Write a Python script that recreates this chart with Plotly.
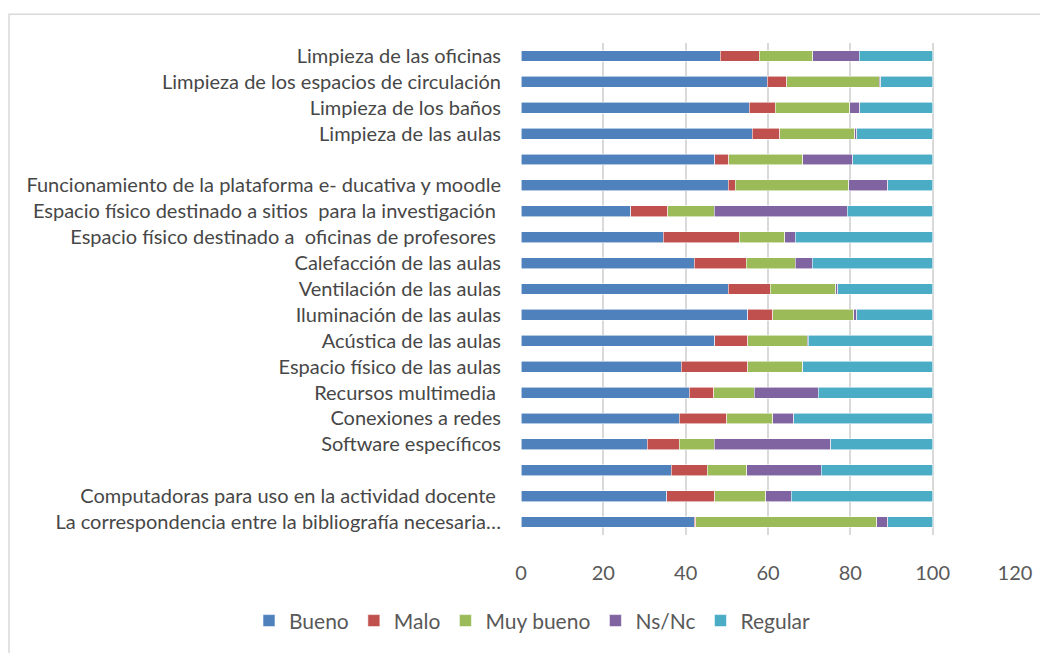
import plotly.graph_objects as go

categories = [
    "Limpieza de las oficinas",
    "Limpieza de los espacios de circulación",
    "Limpieza de los baños",
    "Limpieza de las aulas",
    "",
    "Funcionamiento de la plataforma e- ducativa y moodle",
    "Espacio físico destinado a sitios  para la investigación ",
    "Espacio físico destinado a  oficinas de profesores ",
    "Calefacción de las aulas",
    "Ventilación de las aulas",
    "Iluminación de las aulas",
    "Acústica de las aulas",
    "Espacio físico de las aulas",
    "Recursos multimedia ",
    "Conexiones a redes",
    "Software específicos",
    "",
    "Computadoras para uso en la actividad docente ",
    "La correspondencia entre la bibliografía necesaria…",
]

bueno     = [48.4, 59.8, 55.5, 56.2, 47.1, 50.3, 26.7, 34.6, 42.1, 50.4, 55.1, 47.1, 38.9, 40.9, 38.5, 30.7, 36.5, 35.4, 42.1]
malo      = [9.5, 4.7, 6.2, 6.7, 3.4, 1.7, 9.0, 18.4, 12.6, 10.2, 6.0, 8.0, 16.2, 5.9, 11.5, 7.8, 8.8, 11.7, 0.4]
muy_bueno = [13.0, 22.5, 18.2, 18.2, 17.9, 27.6, 11.2, 11.1, 11.9, 15.8, 19.7, 14.4, 13.2, 9.9, 11.1, 8.4, 9.5, 12.3, 43.9]
ns_nc     = [11.3, 0.4, 2.4, 0.4, 12.2, 9.5, 32.3, 2.5, 4.2, 0.6, 0.7, 0.3, 0.2, 15.5, 5.1, 28.4, 18.1, 6.3, 2.7]
regular   = [17.8, 12.6, 17.7, 18.5, 19.4, 10.9, 20.8, 33.4, 29.2, 23.0, 18.5, 30.2, 31.5, 27.8, 33.8, 24.7, 27.1, 34.3, 10.9]

series_names = ["Bueno", "Malo", "Muy bueno", "Ns/Nc", "Regular"]
series_values = [bueno, malo, muy_bueno, ns_nc, regular]
colors = ["#4F81BD", "#C0504D", "#9BBB59", "#8064A2", "#4BACC6"]

x_ticks = [0, 20, 40, 60, 80, 100, 120]

positions = list(range(len(categories)))
tick_text = [c.replace(" ", "\u00a0") for c in categories]

fig = go.Figure()
for name, vals, col in zip(series_names, series_values, colors):
    fig.add_trace(go.Bar(
        y=positions, x=vals, name=name, orientation="h",
        marker=dict(color=col, line=dict(color="rgba(255,255,255,0.8)", width=0.7)),
        hoverinfo="x+name",
    ))

font_family = "Lato, Open Sans, sans-serif"

# page body has an 8px margin: figure is sized to fit the 1048x653 window
W, H = 1040, 645
L, R, T, B = 513, 33, 35, 112
pw, ph = W - L - R, H - T - B

fig.update_layout(
    barmode="stack",
    bargap=0.58,
    width=W, height=H,
    paper_bgcolor="white", plot_bgcolor="white",
    margin=dict(l=L, r=R, t=T, b=B),
    font=dict(family=font_family, color="#595959"),
    xaxis=dict(
        range=[0, 120], tickvals=x_ticks, showgrid=True,
        gridcolor="#d9d9d9", gridwidth=1.5, zeroline=False,
        showline=False, ticks="", tickfont=dict(size=20, color="#595959"),
        ticklabelstandoff=24,
    ),
    yaxis=dict(
        tickvals=positions, ticktext=tick_text, autorange="reversed",
        showgrid=False, zeroline=False, showline=False, ticks="",
        tickfont=dict(size=20, color="#474747"), ticklabelstandoff=19,
    ),
    legend=dict(
        orientation="h", xref="paper", yref="paper",
        x=(241 - L) / pw, y=(H - B - 620) / ph, xanchor="left", yanchor="middle",
        font=dict(size=21, color="#595959"), traceorder="normal",
        itemwidth=30, tracegroupgap=0,
    ),
    shapes=[dict(
        type="rect", xref="paper", yref="paper",
        x0=(1 - L) / pw, x1=1.2, y0=-0.5, y1=(H - B - 6) / ph,
        line=dict(color="#d9d9d9", width=1.5), fillcolor="rgba(0,0,0,0)", layer="below",
    )],
)

fig.write_html("out.html")
